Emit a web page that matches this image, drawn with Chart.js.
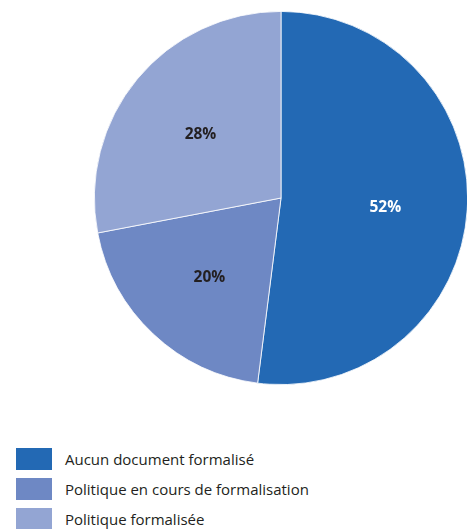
<!DOCTYPE html>
<html>
<head>
<meta charset="utf-8">
<script src="https://cdn.jsdelivr.net/npm/chart.js@4"></script>
<style>
  html, body { margin: 0; padding: 0; background: #fff; overflow: hidden; width: 467px; height: 529px; }
  .chart { position: absolute; left: 0; top: 0; width: 470px; height: 396px; }
  .legend { position: absolute; left: 16px; top: 448px; font-family: "Open Sans", sans-serif; font-size: 15px; color: #231f20; }
  .legend .item { display: flex; align-items: center; height: 22px; margin-bottom: 8px; }
  .legend .box { width: 36px; height: 22px; margin-right: 13px; }
</style>
</head>
<body>
<div class="chart"><canvas id="myChart"></canvas></div>
<div class="legend"></div>
<script>
var labels = ['Aucun document formalisé', 'Politique en cours de formalisation', 'Politique formalisée'];
var values = [52, 20, 28];
var colors = ['#2369b4', '#6e88c4', '#93a5d3'];
var textColors = ['#ffffff', '#231f20', '#231f20'];

var pctLabels = {
    id: 'pctLabels',
    afterDatasetsDraw(chart) {
        var ctx = chart.ctx;
        var meta = chart.getDatasetMeta(0);
        ctx.save();
        ctx.font = 'bold 15.5px "Open Sans", sans-serif';
        ctx.textAlign = 'center';
        ctx.textBaseline = 'middle';
        meta.data.forEach((arc, i) => {
            var p = arc.getProps(['x', 'y', 'startAngle', 'endAngle', 'outerRadius']);
            var mid = (p.startAngle + p.endAngle) / 2;
            var r = p.outerRadius * 0.56;
            ctx.fillStyle = textColors[i];
            ctx.fillText(values[i] + '%', p.x + Math.cos(mid) * r, p.y + Math.sin(mid) * r + 3);
        });
        ctx.restore();
    }
};

var ctx = document.getElementById('myChart').getContext('2d');
var myChart = new Chart(ctx, {
    type: 'pie',
    data: {
        labels: labels,
        datasets: [{
            data: values,
            backgroundColor: colors,
            borderColor: '#ffffff',
            borderWidth: 0.8
        }]
    },
    options: {
        responsive: true,
        maintainAspectRatio: false,
        animation: false,
        layout: { padding: { left: 94, top: 11, right: 2, bottom: 11 } },
        plugins: {
            legend: { display: false },
            tooltip: { enabled: false }
        }
    },
    plugins: [pctLabels]
});

var legend = document.querySelector('.legend');
labels.forEach((label, i) => {
    var item = document.createElement('div');
    item.className = 'item';
    var box = document.createElement('span');
    box.className = 'box';
    box.style.background = colors[i];
    var text = document.createElement('span');
    text.innerText = label;
    item.appendChild(box);
    item.appendChild(text);
    legend.appendChild(item);
});
</script>
</body>
</html>
